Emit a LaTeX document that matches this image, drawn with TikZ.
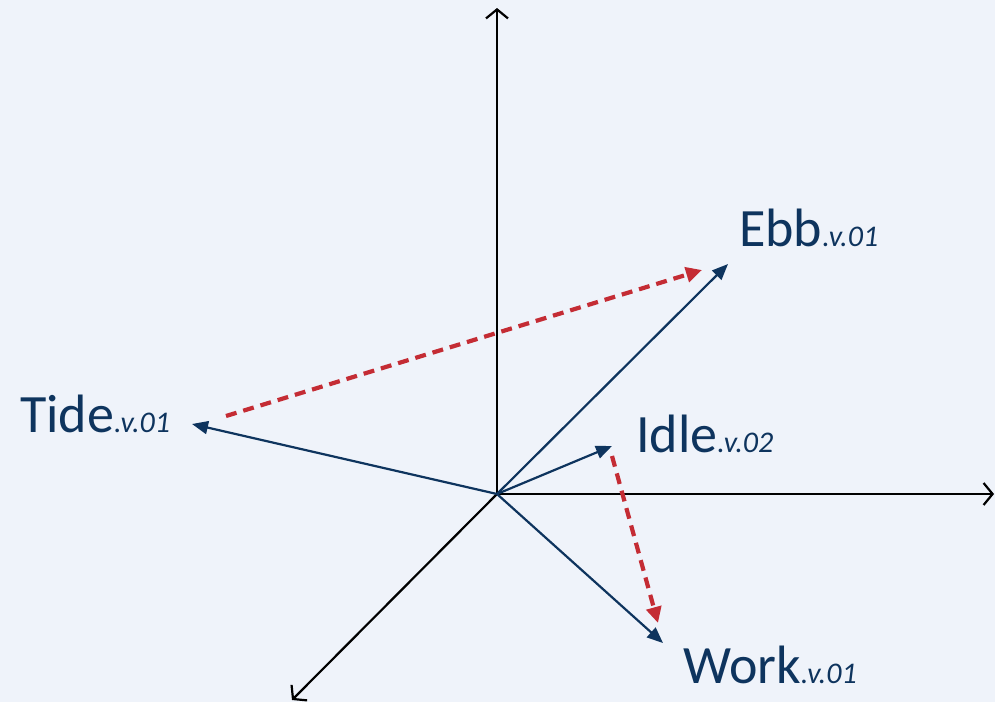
\documentclass[tikz,border=0pt]{standalone}
\usepackage{fontspec}
\setmainfont{Carlito}
\usetikzlibrary{arrows.meta}
\definecolor{bgc}{RGB}{239,243,250}
\definecolor{navy}{RGB}{14,52,94}
\definecolor{redd}{RGB}{196,44,52}
\begin{document}
\begin{tikzpicture}[x=1pt,y=-1pt,
  axis/.style={black,line width=2.2pt,-{Straight Barb[length=9pt,width=22pt,line width=2.2pt]}},
  vec/.style={navy,line width=2.2pt,-{Triangle[length=16pt,width=13pt]}},
  rdash/.style={redd,line width=4.2pt,dash pattern=on 11pt off 7pt,-{Triangle[length=16pt,width=15pt]}},
  lab/.style={anchor=base west,inner sep=0pt,text=navy}]
\fill[bgc] (0,0) rectangle (995,702);
\useasboundingbox (0,0) rectangle (995,702);
\coordinate (O) at (497,494);
\coordinate (up) at (497,8);
\coordinate (right) at (994,494);
\coordinate (dl) at (292,700);
\coordinate (tideT) at (192,424);
\coordinate (ebbT) at (728,264);
\coordinate (idleT) at (612,446);
\coordinate (workT) at (663,643);
\coordinate (r1s) at (226,416);
\coordinate (r1e) at (702,270);
\coordinate (r2s) at (612,456);
\coordinate (r2e) at (658,623);
\draw[axis] (O) -- (up);
\draw[axis] (O) -- (right);
\draw[axis] (O) -- (dl);
\draw[vec] (O) -- (tideT);
\draw[vec] (O) -- (ebbT);
\draw[vec] (O) -- (idleT);
\draw[vec] (O) -- (workT);
\draw[rdash] (r1s) -- (r1e);
\draw[rdash] (r2s) -- (r2e);
\node[lab] (tide) at (20,432) {\fontsize{54}{54}\selectfont Tide{\fontsize{30}{30}\selectfont\itshape .v.01}};
\node[lab] (ebb) at (739,246) {\fontsize{54}{54}\selectfont Ebb{\fontsize{30}{30}\selectfont\itshape .v.01}};
\node[lab] (idle) at (636,452) {\fontsize{54}{54}\selectfont Idle{\fontsize{30}{30}\selectfont\itshape .v.02}};
\node[lab] (work) at (683,683) {\fontsize{54}{54}\selectfont Work{\fontsize{30}{30}\selectfont\itshape .v.01}};
\end{tikzpicture}
\end{document}
